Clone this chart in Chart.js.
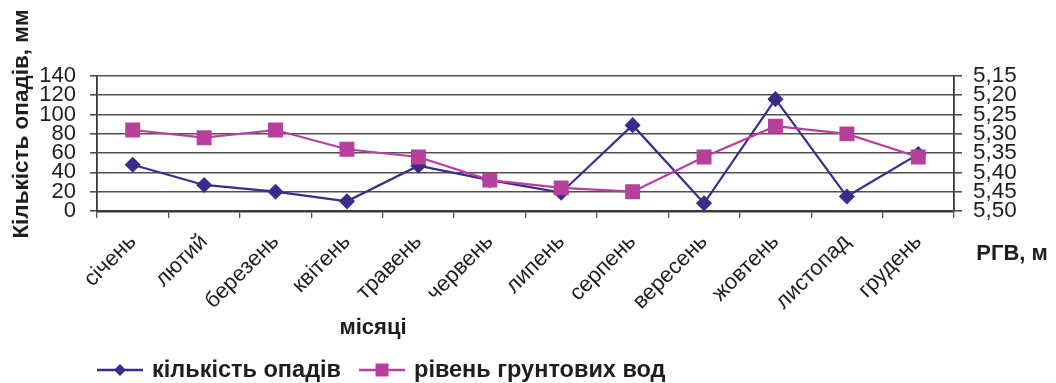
<!DOCTYPE html>
<html lang="uk">
<head>
<meta charset="utf-8">
<title>Кількість опадів і рівень ґрунтових вод</title>
<script src="https://cdn.jsdelivr.net/npm/chart.js@4/dist/chart.umd.min.js"></script>
<style>
  html, body { margin: 0; padding: 0; background: #ffffff; }
  #wrap { width: 1056px; height: 383px; }
</style>
</head>
<body>
<div id="wrap"><canvas id="chart" width="1056" height="383"></canvas></div>
<script>
// Місяці року
const months = ['січень', 'лютий', 'березень', 'квітень', 'травень', 'червень',
                'липень', 'серпень', 'вересень', 'жовтень', 'листопад', 'грудень'];
// Кількість опадів, мм
const precipitation = [48, 27, 20, 10, 47, 32, 19, 89, 8, 116, 15, 59];
// Рівень ґрунтових вод (РГВ), м
const groundwater = [5.29, 5.31, 5.29, 5.34, 5.36, 5.42, 5.44, 5.45, 5.36, 5.28, 5.30, 5.36];
// Поділки осей
const precipTicks = [0, 20, 40, 60, 80, 100, 120, 140];
const levelTicks = [5.15, 5.20, 5.25, 5.30, 5.35, 5.40, 5.45, 5.50];

const seriesNames = ['кількість опадів', 'рівень грунтових вод'];
const colPrecip = '#3b2b8c';
const colLevel = '#b8409c';
const gridCol = '#505050';
const axisCol = '#3a3a3a';
const textCol = '#1e1e1e';
const FONT = '"Liberation Sans", Arial, sans-serif';

// Підписи осей і легенда, розташовані відносно області побудови
const decorations = {
  id: 'decorations',
  afterDraw(chart) {
    const { ctx, chartArea: a } = chart;
    ctx.save();
    ctx.fillStyle = textCol;
    ctx.textAlign = 'center';
    ctx.textBaseline = 'middle';

    // назва лівої осі
    ctx.font = 'bold 22.5px ' + FONT;
    ctx.save();
    ctx.translate(a.left - 75, a.top + 48);
    ctx.rotate(-Math.PI / 2);
    ctx.fillText('Кількість опадів, мм', 0, 0);
    ctx.restore();

    // назва правої осі
    ctx.font = 'bold 22px ' + FONT;
    ctx.fillText('РГВ, м', a.right + 58, a.bottom + 43);

    // назва осі категорій
    ctx.font = 'bold 22px ' + FONT;
    ctx.fillText('місяці', a.left + 276, a.bottom + 117);

    // легенда: відрізок лінії з маркером і назва ряду
    const y = a.bottom + 159;
    let x = a.left;
    ctx.font = 'bold 23.5px ' + FONT;
    ctx.textAlign = 'left';
    chart.data.datasets.forEach(ds => {
      ctx.strokeStyle = ds.borderColor;
      ctx.fillStyle = ds.borderColor;
      ctx.lineWidth = 2.5;
      ctx.beginPath(); ctx.moveTo(x, y); ctx.lineTo(x + 46, y); ctx.stroke();
      ctx.beginPath();
      if (ds.pointStyle === 'rectRot') {
        ctx.moveTo(x + 23, y - 6); ctx.lineTo(x + 29, y); ctx.lineTo(x + 23, y + 6); ctx.lineTo(x + 17, y);
      } else {
        ctx.rect(x + 16.5, y - 6.5, 13, 13);
      }
      ctx.closePath(); ctx.fill();
      ctx.fillStyle = textCol;
      ctx.fillText(ds.label, x + 55, y + 1);
      x += 55 + ctx.measureText(ds.label).width + 18;
    });
    ctx.restore();
  }
};

const fmtLevel = v => v.toFixed(2).replace('.', ',');

new Chart(document.getElementById('chart'), {
  type: 'line',
  data: {
    labels: months,
    datasets: [
      {
        label: seriesNames[0],
        data: precipitation,
        yAxisID: 'yRain',
        borderColor: colPrecip,
        backgroundColor: colPrecip,
        borderWidth: 2.2,
        pointStyle: 'rectRot',
        pointRadius: 6.5,
        pointHoverRadius: 6.5,
        tension: 0,
        order: 1
      },
      {
        label: seriesNames[1],
        data: groundwater,
        yAxisID: 'yLevel',
        borderColor: colLevel,
        backgroundColor: colLevel,
        borderWidth: 2.2,
        pointStyle: 'rect',
        pointRadius: 9,
        pointHoverRadius: 9,
        tension: 0,
        order: 0
      }
    ]
  },
  options: {
    responsive: false,
    animation: false,
    devicePixelRatio: 1,
    layout: { padding: { top: 76, left: 0, right: 0, bottom: 0 } },
    plugins: {
      tooltip: { enabled: false },
      title: { display: false },
      legend: { display: false }
    },
    scales: {
      x: {
        type: 'category',
        offset: true,
        afterFit: s => { s.height = 172; },
        grid: {
          offset: true,
          drawOnChartArea: false,
          drawTicks: true,
          tickLength: 7,
          color: gridCol,
          lineWidth: 1.3
        },
        border: { display: true, color: axisCol, width: 2.5 },
        ticks: {
          autoSkip: false,
          maxRotation: 45,
          minRotation: 45,
          padding: 11,
          color: textCol,
          font: { family: FONT, size: 22 }
        }
      },
      yRain: {
        type: 'linear',
        position: 'left',
        min: 0,
        max: 140,
        afterFit: s => { s.width = 97; },
        afterBuildTicks: s => { s.ticks = precipTicks.map(v => ({ value: v })); },
        grid: {
          drawOnChartArea: true,
          drawTicks: true,
          tickLength: 7,
          color: gridCol,
          lineWidth: 1.6
        },
        border: { display: true, color: axisCol, width: 1.8 },
        ticks: {
          autoSkip: false,
          padding: 14,
          color: textCol,
          font: { family: FONT, size: 22, lineHeight: 1 }
        }
      },
      yLevel: {
        type: 'linear',
        position: 'right',
        reverse: true,
        min: 5.15,
        max: 5.50,
        afterFit: s => { s.width = 102; },
        afterBuildTicks: s => { s.ticks = levelTicks.map(v => ({ value: v })); },
        grid: {
          drawOnChartArea: false,
          drawTicks: true,
          tickLength: 8,
          color: gridCol,
          lineWidth: 1.6
        },
        border: { display: true, color: axisCol, width: 1.8 },
        ticks: {
          autoSkip: false,
          padding: 11,
          color: textCol,
          font: { family: FONT, size: 22.5, lineHeight: 1 },
          callback: v => fmtLevel(v)
        }
      }
    }
  },
  plugins: [decorations]
});
</script>
</body>
</html>
